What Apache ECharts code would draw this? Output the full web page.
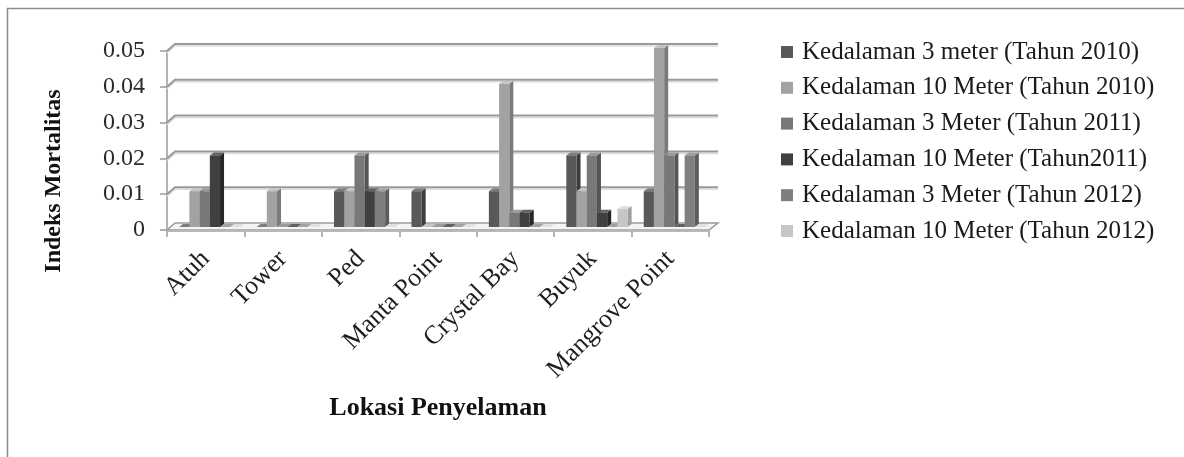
<!DOCTYPE html>
<html>
<head>
<meta charset="utf-8">
<title>Indeks Mortalitas per Lokasi Penyelaman</title>
<script src="https://cdn.jsdelivr.net/npm/echarts@6/dist/echarts.min.js"></script>
<style>
  html, body { margin: 0; padding: 0; background: #ffffff; }
  #chart { width: 1184px; height: 457px; }
</style>
</head>
<body>
<div id="chart"></div>
<script>
// Dive sites along the x axis
const categories = ['Atuh', 'Tower', 'Ped', 'Manta Point', 'Crystal Bay', 'Buyuk', 'Mangrove Point'];

// Mortality index per depth and year
const seriesNames = [
  'Kedalaman 3 meter (Tahun 2010)',
  'Kedalaman 10 Meter (Tahun 2010)',
  'Kedalaman 3 Meter (Tahun 2011)',
  'Kedalaman 10 Meter (Tahun2011)',
  'Kedalaman 3 Meter (Tahun 2012)',
  'Kedalaman 10 Meter (Tahun 2012)'
];
const depth3m2010  = [0,    0,    0.01, 0.01, 0.01,  0.02,  0.01];
const depth10m2010 = [0.01, 0.01, 0.01, 0,    0.04,  0.01,  0.05];
const depth3m2011  = [0.01, 0,    0.02, 0,    0.004, 0.02,  0.02];
const depth10m2011 = [0.02, 0,    0.01, 0,    0.004, 0.004, 0];
const depth3m2012  = [0,    0,    0.01, 0,    0,     0,     0.02];
const depth10m2012 = [0,    0,    0,    0,    0,     0.005, 0];

// Value axis ticks
const yTicks = [0, 0.01, 0.02, 0.03, 0.04, 0.05];

const seriesValues = [depth3m2010, depth10m2010, depth3m2011, depth10m2011, depth3m2012, depth10m2012];

// Grey shades for each series: front face, side face, top face
const shades = [
  { front: '#595959', side: '#3c3c3c', top: '#7c7c7c' },
  { front: '#a2a2a2', side: '#7a7a7a', top: '#c4c4c4' },
  { front: '#787878', side: '#555555', top: '#9a9a9a' },
  { front: '#404040', side: '#262626', top: '#626262' },
  { front: '#7f7f7f', side: '#5c5c5c', top: '#a2a2a2' },
  { front: '#c6c6c6', side: '#a0a0a0', top: '#e0e0e0' }
];

const FONT = '"Liberation Serif", "Times New Roman", serif';
const WALL_DX = 8, WALL_DY = -7;   // depth of the back wall
const BAR_DX = 4, BAR_DY = -3;     // depth of each column
const BAR_LIFT = 3;                // columns sit a little behind the front edge

// A column with a front face, a shaded right side and a lit top
function columnRenderer(idx) {
  const c = shades[idx];
  return function (params, api) {
    const cat = api.value(0);
    const v = api.value(1);
    const base = api.coord([cat, 0]);
    const tip = api.coord([cat, v]);
    const band = api.size([1, 0])[0];
    const w = band * 0.132;
    const left = base[0] - band * 0.343 + idx * w;
    const yb = base[1] - BAR_LIFT;
    const yt = tip[1] - BAR_LIFT;
    return {
      type: 'group',
      children: [
        {
          type: 'polygon',
          shape: { points: [[left + w, yb], [left + w + BAR_DX, yb + BAR_DY], [left + w + BAR_DX, yt + BAR_DY], [left + w, yt]] },
          style: { fill: c.side }
        },
        {
          type: 'polygon',
          shape: { points: [[left, yt], [left + BAR_DX, yt + BAR_DY], [left + w + BAR_DX, yt + BAR_DY], [left + w, yt]] },
          style: { fill: c.top }
        },
        {
          type: 'rect',
          shape: { x: left, y: yt, width: w, height: yb - yt },
          style: { fill: c.front }
        }
      ]
    };
  };
}

// Back-wall gridlines and the floor slab, one item per value tick
function frameRenderer(params, api) {
  const cs = params.coordSys;
  const v = api.value(1);
  const y = api.coord([0, v])[1];
  const x0 = cs.x, x1 = cs.x + cs.width;
  if (v === 0) {
    return {
      type: 'group',
      children: [
        {
          type: 'polygon',
          shape: { points: [[x0, y], [x1, y], [x1 + WALL_DX + 1, y + WALL_DY], [x0 + WALL_DX, y + WALL_DY]] },
          style: { fill: '#f4f4f4', stroke: '#9a9a9a', lineWidth: 1.5 }
        },
        {
          type: 'rect',
          shape: { x: x0, y: y, width: cs.width, height: 2 },
          style: { fill: '#b8b8b8' }
        }
      ]
    };
  }
  const pts = [[x0, y], [x0 + WALL_DX, y + WALL_DY], [x1 + WALL_DX + 1, y + WALL_DY]];
  return {
    type: 'group',
    children: [
      {
        type: 'polyline',
        shape: { points: pts.map(p => [p[0], p[1] + 2]) },
        style: { stroke: '#dcdcdc', lineWidth: 1.5, fill: null }
      },
      {
        type: 'polyline',
        shape: { points: pts },
        style: { stroke: '#999999', lineWidth: 2, fill: null }
      }
    ]
  };
}

const columnSeries = seriesNames.map((name, i) => ({
  name: name,
  type: 'custom',
  z: 3,
  itemStyle: { color: shades[i].front },
  renderItem: columnRenderer(i),
  encode: { x: 0, y: 1 },
  data: seriesValues[i].map((v, k) => [k, v])
}));

const chart = echarts.init(document.getElementById('chart'), null, { renderer: 'canvas' });

chart.setOption({
  animation: false,
  backgroundColor: '#ffffff',
  grid: { left: 167, right: 475, top: 51, bottom: 227, containLabel: false },
  xAxis: {
    type: 'category',
    data: categories,
    boundaryGap: true,
    axisLine: { show: true, lineStyle: { color: '#9a9a9a', width: 1.5 } },
    axisTick: { show: true, length: 7, lineStyle: { color: '#9a9a9a', width: 1.5 } },
    axisLabel: {
      interval: 0,
      rotate: 45,
      margin: 25,
      color: '#1e1e1e',
      fontFamily: FONT,
      fontSize: 26
    },
    splitLine: { show: false }
  },
  yAxis: {
    type: 'value',
    min: 0,
    max: 0.05,
    interval: 0.01,
    axisLine: { show: true, lineStyle: { color: '#9a9a9a', width: 1.5 } },
    axisTick: { show: true, length: 7, lineStyle: { color: '#9a9a9a', width: 1.5 } },
    axisLabel: {
      margin: 22,
      color: '#2a2a2a',
      fontFamily: FONT,
      fontSize: 24,
      formatter: function (v) { return String(v); }
    },
    splitLine: { show: false }
  },
  legend: {
    data: seriesNames,
    orient: 'vertical',
    left: 776,
    top: 34,
    itemWidth: 12,
    itemHeight: 12,
    itemGap: 9.8,
    icon: 'rect',
    textStyle: {
      fontFamily: FONT,
      fontSize: 25,
      lineHeight: 26,
      color: '#1a1a1a',
      padding: [0, 0, 0, 4]
    }
  },
  graphic: [
    {
      type: 'rect',
      silent: true,
      shape: { x: 7.5, y: 8.5, width: 1200, height: 480 },
      style: { fill: null, stroke: '#8c8c8c', lineWidth: 1.5 }
    },
    {
      type: 'text',
      silent: true,
      x: 54,
      y: 181,
      rotation: Math.PI / 2,
      style: {
        text: 'Indeks Mortalitas',
        font: 'bold 24px ' + FONT,
        fill: '#111111',
        align: 'center',
        verticalAlign: 'middle'
      }
    },
    {
      type: 'text',
      silent: true,
      x: 438,
      y: 408,
      style: {
        text: 'Lokasi Penyelaman',
        font: 'bold 26px ' + FONT,
        fill: '#111111',
        align: 'center',
        verticalAlign: 'middle'
      }
    }
  ],
  series: [
    {
      name: 'frame',
      type: 'custom',
      silent: true,
      z: 1,
      renderItem: frameRenderer,
      encode: { x: 0, y: 1 },
      data: yTicks.map(v => [0, v])
    }
  ].concat(columnSeries)
});
</script>
</body>
</html>
